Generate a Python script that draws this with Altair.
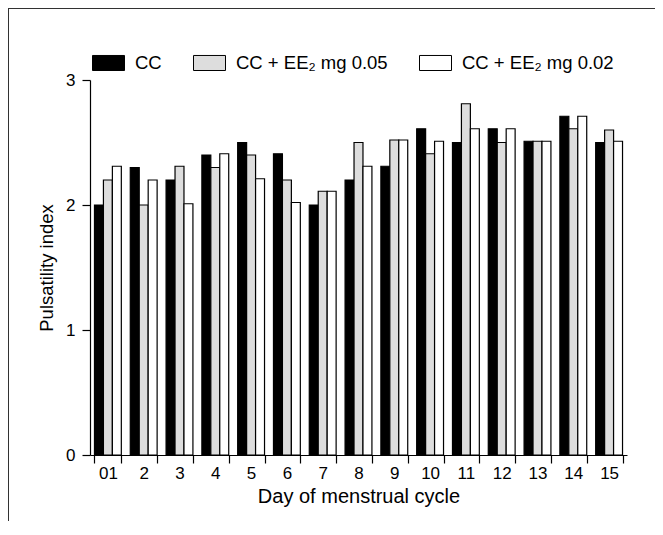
import altair as alt
import pandas as pd

days = ["01", "2", "3", "4", "5", "6", "7", "8", "9", "10", "11", "12", "13", "14", "15"]
groups = ["CC", "CC + EE\u2082 mg 0.05", "CC + EE\u2082 mg 0.02"]
cc = [2.0, 2.3, 2.2, 2.4, 2.5, 2.41, 2.0, 2.2, 2.31, 2.61, 2.5, 2.61, 2.51, 2.71, 2.5]
ee005 = [2.2, 2.0, 2.31, 2.3, 2.4, 2.2, 2.11, 2.5, 2.52, 2.41, 2.81, 2.5, 2.51, 2.61, 2.6]
ee002 = [2.31, 2.2, 2.01, 2.41, 2.21, 2.02, 2.11, 2.31, 2.52, 2.51, 2.61, 2.61, 2.51, 2.71, 2.51]
colors = ["#000000", "#dddddd", "#ffffff"]

rows = []
for g, vals in zip(groups, [cc, ee005, ee002]):
    for d, v in zip(days, vals):
        rows.append({"day": d, "group": g, "value": v})
df = pd.DataFrame(rows)

FONT = "Liberation Sans"

rect_path = "M-1,-0.47L1,-0.47L1,0.47L-1,0.47Z"

bars = alt.Chart(df).mark_bar(stroke="#000000", strokeWidth=1.2).encode(
    x=alt.X("day:N", sort=days,
            scale=alt.Scale(paddingInner=0.25, paddingOuter=0.125),
            axis=alt.Axis(title="Day of menstrual cycle", labelAngle=0,
                          tickBand="extent", tickSize=8, labelPadding=2,
                          titlePadding=5, labelFontSize=17, titleFontSize=20)),
    xOffset=alt.XOffset("group:N", sort=groups, scale=alt.Scale(paddingInner=0, paddingOuter=0)),
    y=alt.Y("value:Q", scale=alt.Scale(domain=[0, 3], nice=False),
            axis=alt.Axis(title="Pulsatility index", values=[0, 1, 2, 3], tickSize=8,
                          labelPadding=7, titlePadding=9, grid=False,
                          labelFontSize=17, titleFontSize=18.5)),
    fill=alt.Fill("group:N", sort=groups,
                  scale=alt.Scale(domain=groups, range=colors),
                  legend=alt.Legend(title=None, orient="none", direction="horizontal",
                                    legendX=2, legendY=-34, symbolType=rect_path,
                                    symbolSize=1024, symbolStrokeColor="#000000",
                                    symbolStrokeWidth=1, labelOffset=10,
                                    columnPadding=29, padding=0,
                                    labelFontSize=18.5, labelFont=FONT,
                                    labelColor="#000000")),
)

frame_top = alt.Chart(df).mark_rule(color="#333333", strokeWidth=1.5).encode(
    x=alt.value(-82), x2=alt.value(600), y=alt.value(-72)
)
frame_left = alt.Chart(df).mark_rule(color="#333333", strokeWidth=1.5).encode(
    x=alt.value(-82), y=alt.value(-72), y2=alt.value(520)
)

chart = alt.layer(bars, frame_top, frame_left).properties(
    width=537, height=375,
    autosize=alt.AutoSizeParams(type="none"),
    padding={"left": 82, "top": 72, "right": 28, "bottom": 66},
).configure_view(stroke=None).configure_axis(
    domainColor="#000000", tickColor="#000000", labelColor="#000000",
    titleColor="#000000", labelFont=FONT, titleFont=FONT,
    titleFontWeight="normal", domainWidth=1.2, tickWidth=1.2,
)

chart.save("out.html", embed_options={"renderer": "svg", "actions": False})
